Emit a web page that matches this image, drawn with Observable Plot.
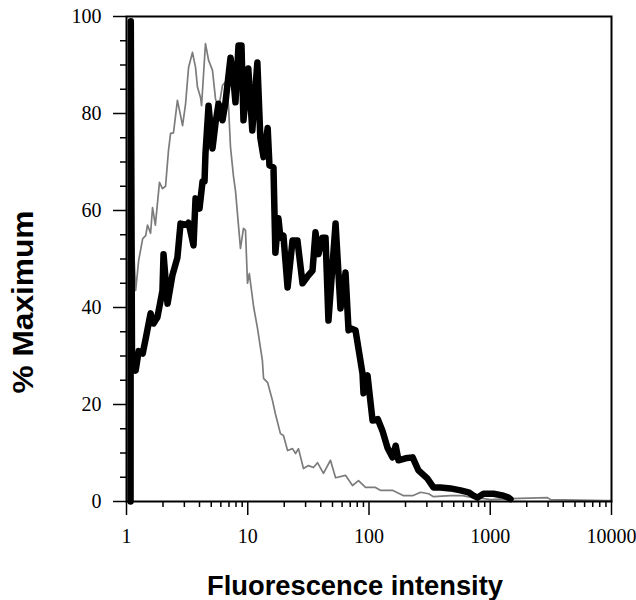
<!DOCTYPE html>
<html><head><meta charset="utf-8">
<script src="https://cdn.jsdelivr.net/npm/d3@7"></script>
<script src="https://cdn.jsdelivr.net/npm/@observablehq/plot@0.6"></script>
<style>body{margin:0;background:#fff}</style>
</head><body><div id="chart"></div>
<script>
// Black (thick) histogram: fluorescence intensity vs % maximum
const blackX = [1.08, 1.085, 1.11, 1.19, 1.26, 1.36, 1.44, 1.58, 1.67, 1.80, 1.98, 2.02, 2.18, 2.39, 2.63, 2.79, 3.18, 3.25, 3.57, 3.71, 4.00, 4.24, 4.40, 4.48, 4.75, 5.12, 5.42, 5.74, 6.19, 6.55, 7.21, 7.63, 7.92, 8.39, 8.88, 9.22, 10.1, 10.9, 12.0, 12.7, 13.5, 14.6, 15.1, 16.3, 16.9, 17.9, 18.6, 19.7, 21.3, 23.4, 25.7, 28.3, 31.1, 34.2, 36.2, 38.3, 41.3, 43.8, 46.3, 53.0, 58.2, 64.0, 67.8, 70.3, 77.4, 88.4, 90.1, 97.2, 107, 118, 129, 142, 156, 166, 175, 200, 229, 256, 304, 340, 389, 470, 569, 662, 728, 785, 880, 1064, 1285, 1415, 1469];
const blackY = [0, 99, 29, 27, 31, 30.5, 33.6, 38.8, 36.7, 38, 43.5, 51, 40.8, 46.6, 50.3, 57.3, 57, 57.5, 52.8, 62.5, 60.4, 66, 66, 71.7, 81.6, 72.8, 78, 82, 78.6, 82.3, 91.5, 86.8, 82.3, 94, 94, 78.6, 89.3, 76.5, 90.5, 75, 71, 77, 69.3, 68.9, 51.3, 58.4, 54.4, 54.8, 44.1, 53.8, 53.8, 45, 46.4, 47.6, 55.5, 51, 54.4, 54.4, 37.3, 57.3, 39.8, 47.2, 35.3, 35.7, 35.3, 26.4, 22.3, 26, 16.7, 17, 14.6, 11.1, 9.1, 11.5, 8.5, 8.9, 9.1, 6.4, 4.7, 2.9, 2.9, 2.7, 2.3, 1.9, 1.2, 0.8, 1.6, 1.6, 1.2, 0.8, 0.5];
// Gray (thin) histogram
const grayX = [1.08, 1.085, 1.19, 1.26, 1.36, 1.44, 1.49, 1.58, 1.64, 1.73, 1.87, 1.98, 2.10, 2.22, 2.31, 2.44, 2.63, 2.79, 2.90, 3.07, 3.25, 3.50, 3.71, 3.85, 4.08, 4.16, 4.48, 4.75, 5.12, 5.42, 5.74, 6.19, 6.55, 6.94, 7.21, 7.63, 7.92, 8.71, 9.22, 9.58, 9.95, 10.3, 11.2, 12.0, 13.2, 13.5, 14.6, 16.0, 16.9, 18.6, 19.7, 21.3, 23.4, 24.8, 26.2, 28.8, 31.7, 34.8, 37.6, 42.1, 48.1, 53.0, 64.0, 73.1, 81.9, 93.6, 113, 124, 156, 193, 229, 266, 310, 340, 470, 590, 714, 885, 1005, 1469, 2965, 3140, 9270, 10000];
const grayY = [0, 64, 43.5, 49.7, 54.2, 54.8, 57, 55.3, 60.6, 57, 65.8, 64.5, 65, 72.4, 75.9, 76, 82.7, 79.6, 77.5, 82, 89.5, 92.6, 89.5, 85.4, 83.3, 81.6, 94.4, 91, 88.9, 83, 81, 85.8, 86.5, 81.5, 73, 67, 64.1, 52.2, 56.3, 55.9, 45, 47, 40, 35.9, 29.1, 25.4, 24.5, 20.8, 18.1, 14, 13.6, 10.5, 10.9, 9.9, 10.9, 6.8, 7.4, 7.0, 8.0, 5.8, 8.5, 4.9, 5.4, 3.3, 4.3, 2.9, 2.9, 2.3, 2.3, 1.2, 1.2, 1.9, 1.6, 1.0, 1.2, 1.2, 0.8, 0.6, 0.4, 0.6, 0.8, 0.4, 0.2, 0.2];

const xTickLabels = [1, 10, 100, 1000, 10000];
const yTickLabels = [0, 20, 40, 60, 80, 100];
const xTitle = "Fluorescence intensity";
const yTitle = "% Maximum";

const black = blackX.map((x, i) => ({x, y: blackY[i]}));
const gray = grayX.map((x, i) => ({x, y: grayY[i]}));

const xMinor = [];
for (const d of [1, 10, 100, 1000]) for (let k = 2; k <= 9; k++) xMinor.push(d * k);
const yMinor = d3.range(0, 101, 5).filter(v => v % 20 !== 0);

const serif = "Liberation Serif";

const svg = Plot.plot({
  width: 636, height: 600,
  marginTop: 16, marginBottom: 99, marginLeft: 126, marginRight: 25,
  x: {type: "log", domain: [1, 10000], label: null},
  y: {domain: [0, 100], label: null},
  style: {fontFamily: serif, fontSize: "20px", color: "black", background: "white"},
  marks: [
    Plot.axisX({ticks: xMinor, tickSize: 6, tickFormat: () => "", label: null, strokeWidth: 1.5}),
    Plot.axisX({ticks: xTickLabels, tickSize: 14, tickPadding: 13, tickFormat: d => String(d), label: null, strokeWidth: 1.5, fontSize: 20, fontFamily: serif, fill: "black"}),
    Plot.axisY({ticks: yMinor, tickSize: 6, tickFormat: () => "", label: null, strokeWidth: 1.5}),
    Plot.axisY({ticks: yTickLabels, tickSize: 13, tickPadding: 12, tickFormat: d => String(d), label: null, strokeWidth: 1.5, fontSize: 20, fontFamily: serif, fill: "black"}),
    Plot.line(gray, {x: "x", y: "y", stroke: "#7c7c7c", strokeWidth: 1.7}),
    Plot.line(black, {x: "x", y: "y", stroke: "#000", strokeWidth: 6.5, strokeLinejoin: "round"}),
    Plot.frame({stroke: "black", strokeWidth: 2})
  ]
});

const s = d3.select(svg);
s.append("text")
  .attr("x", 355).attr("y", 595)
  .attr("text-anchor", "middle")
  .attr("font-family", "'Liberation Sans', Arial, sans-serif")
  .attr("font-weight", "bold").attr("font-size", 27)
  .attr("textLength", 296).attr("lengthAdjust", "spacingAndGlyphs")
  .attr("fill", "black")
  .text(xTitle);
s.append("text")
  .attr("transform", "translate(23,302) rotate(-90)")
  .attr("text-anchor", "middle").attr("dominant-baseline", "central")
  .attr("font-family", "'Liberation Sans', Arial, sans-serif")
  .attr("font-weight", "bold").attr("font-size", 29)
  .attr("textLength", 183).attr("lengthAdjust", "spacingAndGlyphs")
  .attr("fill", "black")
  .text(yTitle);

document.getElementById("chart").appendChild(svg);
</script>
</body></html>
